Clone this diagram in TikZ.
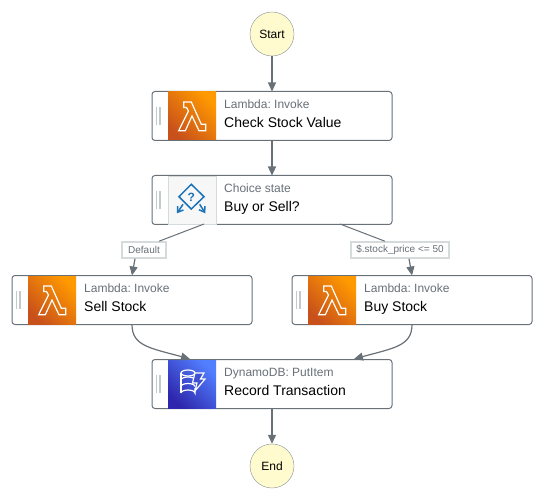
\documentclass[tikz,border=0pt]{standalone}
\usepackage{fontspec}
\setmainfont{Liberation Sans}
\usetikzlibrary{arrows.meta}
\frenchspacing
\definecolor{edgegray}{HTML}{687078}
\definecolor{boxgray}{HTML}{879196}
\definecolor{labelgray}{HTML}{D5DBDB}
\definecolor{gripgray}{HTML}{C2C9C9}
\definecolor{awsblue}{HTML}{1A73B8}
\definecolor{lambdalow}{HTML}{C8511B}
\definecolor{lambdahigh}{HTML}{FF9900}
\definecolor{dynamolow}{HTML}{2E27AD}
\definecolor{dynamohigh}{HTML}{527FFF}
\definecolor{dynamomid}{HTML}{3F50D2}
\definecolor{terminalfill}{HTML}{FFFBCF}
\tikzstyle{terminal}=[circle,draw=boxgray,fill=terminalfill,minimum size=44pt,inner sep=0pt,font=\fontsize{12}{12}\selectfont]
\tikzstyle{statebox}=[draw=edgegray,fill=white,rounded corners=3pt,minimum width=240pt,minimum height=49pt,inner sep=0pt,outer sep=0pt,line width=1pt]
\tikzstyle{iconbox}=[minimum size=48pt,inner sep=0pt,outer sep=0pt]
\tikzstyle{lambdabg}=[iconbox,left color=lambdalow,right color=lambdahigh,shading angle=135]
\tikzstyle{dynamobg}=[iconbox,left color=dynamolow,right color=dynamohigh,shading angle=135]
\tikzstyle{choicebg}=[iconbox,draw=labelgray,fill=gray!6]
\tikzstyle{kindtext}=[anchor=base west,inner sep=0pt,text=edgegray,font=\fontsize{12}{12}\selectfont]
\tikzstyle{titletext}=[anchor=base west,inner sep=0pt,font=\fontsize{14}{14}\selectfont]
\tikzstyle{edgelabel}=[draw=labelgray,fill=white,line width=1.5pt,inner sep=0pt,minimum height=16pt,text=edgegray,font=\fontsize{10}{10}\selectfont]
\tikzstyle{flow}=[draw=edgegray,line width=1.2pt,-{Triangle[length=9pt,width=8pt]}]
\tikzstyle{flowplain}=[draw=edgegray,line width=1pt]
\tikzstyle{grip}=[draw=gripgray,line width=1.6pt]

\newcommand{\lambdaicon}[1]{%
\begin{scope}[shift={(#1)},draw=white,line width=1.2pt,line join=miter]
    \draw (15.7,10) -- (23.3,10) -- (33.3,32.3) -- (37.7,32.3) -- (37.7,38.7) -- (31,38.7)
      -- (24,24) -- (17.3,38.7) -- (10.7,38.7) -- (20.5,19) -- (18.5,15.5) -- (15.7,15.5) -- cycle;
\end{scope}}

\begin{document}
\begin{tikzpicture}[x=1pt,y=-1pt]
    \useasboundingbox (0,0) rectangle (544,500);
    \node[terminal] (start) at (272,34) {Start};
    \node[terminal] (end) at (272,466) {End};

    \node[statebox] (check) at (272,116) {};
    \node[statebox] (choice) at (272,200) {};
    \node[statebox] (sell) at (132,300) {};
    \node[statebox] (buy) at (412,300) {};
    \node[statebox] (record) at (272,384) {};

    % grip, icon background and the two text lines of each state
    \foreach \state/\bg/\kind/\title in {check/lambdabg/Lambda: Invoke/Check Stock Value,
      choice/choicebg/Choice state/Buy or Sell?,
      sell/lambdabg/Lambda: Invoke/Sell Stock,
      buy/lambdabg/Lambda: Invoke/Buy Stock,
      record/dynamobg/DynamoDB: PutItem/Record Transaction} {
        \node[\bg] (\state icon) at ([xshift=40pt]\state.west) {};
        \draw[grip] ([shift={(4.5,-9)}]\state.west) -- ([shift={(4.5,9)}]\state.west);
        \draw[grip] ([shift={(8,-9)}]\state.west) -- ([shift={(8,9)}]\state.west);
        \node[kindtext] (\state kind) at ([shift={(72,-7.6)}]\state.west) {\kind};
        \node[titletext] (\state title) at ([shift={(72,11.4)}]\state.west) {\title};
    }

    \lambdaicon{168,92}
    \lambdaicon{28,276}
    \lambdaicon{308,276}

    % choice icon
    \begin{scope}[shift={(168,176)},draw=awsblue,line width=1.5pt]
        \draw (23.3,8.3) -- (36,20.7) -- (23.3,33) -- (11,20.7) -- cycle;
        \draw[-{Straight Barb[length=5pt,width=7pt]}] (15,28.3) -- (9,37.3);
        \draw[-{Straight Barb[length=5pt,width=7pt]}] (31.7,28.3) -- (37.3,37.3);
        \node[text=awsblue,inner sep=0pt,font=\fontsize{12}{12}\selectfont\bfseries] (qmark) at (23.3,21) {?};
    \end{scope}

    % dynamodb icon
    \begin{scope}[shift={(168,360)},draw=white,line width=1.2pt]
        \draw (20,13) ellipse (7 and 3);
        \draw (13,13) -- (13,33);
        \draw (13,33) arc (180:360:7 and 3) -- (27,28);
        \draw (13,20) arc (180:360:7 and 3);
        \draw (13,26.5) arc (180:360:7 and 3);
        \draw[fill=dynamomid] (27,13) -- (36,13) -- (32.5,19) -- (37,19) -- (27,31) -- (29,23) -- (24.5,23) -- cycle;
    \end{scope}

    \node[edgelabel,minimum width=44pt] (default) at (144,250) {Default};
    \node[edgelabel,minimum width=98pt] (stockprice) at (400,250) {\$.stock\_price <= 50};

    \coordinate (leftout) at (204,224);
    \coordinate (rightout) at (340,224);
    \coordinate (sellin) at (190,359);
    \coordinate (buyin) at (354,359);

    \foreach \from/\to in {start/check,check/choice,record/end}
    \draw[flow] (\from) -- (\to);
    \draw[flowplain] (leftout) -- ([xshift=15pt]default.north);
    \draw[flowplain] (rightout) -- ([xshift=-15pt]stockprice.north);
    \draw[flow] ([xshift=-9pt]default.south) -- (sell.north);
    \draw[flow] ([xshift=9pt]stockprice.south) -- (buy.north);
    \draw[flow] (sell.south) .. controls (132,346) and (150,348) .. (sellin);
    \draw[flow] (buy.south) .. controls (412,346) and (394,348) .. (buyin);
\end{tikzpicture}
\end{document}
